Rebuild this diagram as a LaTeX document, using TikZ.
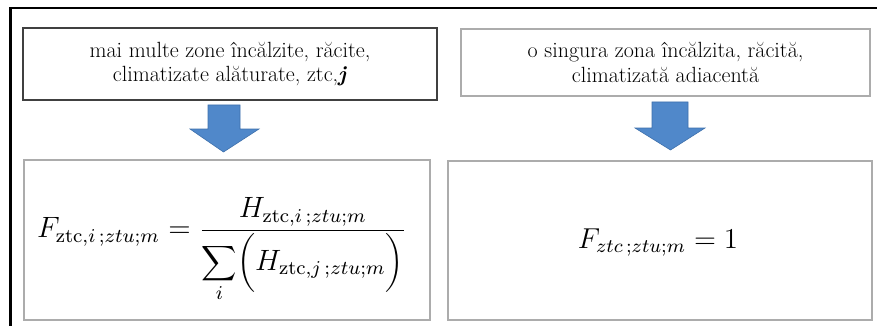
\documentclass[tikz,border=0pt]{standalone}
\usepackage{fontspec}
\definecolor{arrfill}{RGB}{80,136,202}
\definecolor{arrline}{RGB}{62,112,172}
\begin{document}
\begin{tikzpicture}[x=1pt,y=-1pt,
  box/.style={draw=gray!65, line width=1.1pt, inner sep=0pt, align=center,
    font=\fontsize{22}{24.5}\selectfont},
  blockarrow/.style={fill=arrfill, draw=arrline, line width=0.6pt, line join=miter},
  formula/.style={inner sep=0pt, font=\fontsize{12}{14}\selectfont}]
\useasboundingbox (0,0) rectangle (877,326);
\fill[white] (0,0) rectangle (877,326);
\draw[line width=2.6pt] (10.5,330) -- (10.5,8) -- (880,8);

\node[box, draw=black!75, minimum width=414pt, minimum height=72pt] (tl) at (230,64)
  {mai multe zone încălzite, răcite,\\climatizate alăturate, ztc,\textbf{\textit{j}}};
\node[box, minimum width=409pt, minimum height=67pt] (tr) at (665.5,62.5)
  {o singura zona încălzita, răcită,\\climatizată adiacentă};
\node[box, minimum width=406pt, minimum height=160pt] (bl) at (227,240) {};
\node[box, minimum width=424pt, minimum height=159pt] (br) at (660,240.5) {};

\node[formula] (fl) at ([xshift=-5pt,yshift=-10pt]bl.center)
  {\scalebox{2.45}{$\displaystyle F_{\mathrm{ztc},i\,;ztu;m}=\frac{H_{\mathrm{ztc},i\,;ztu;m}\vrule width 0pt depth 3pt}{\displaystyle\sum_{i}\biggl(H_{\mathrm{ztc},j\,;ztu;m}\biggr)}$}};
\node[formula] (fr) at ([xshift=-2pt,yshift=-2pt]br.center)
  {\scalebox{2.4}{$F_{ztc\,;ztu;m}=1$}};

\draw[blockarrow] (208,105) -- (240,105) -- (240,129) -- (259,129) -- (223.5,152)
  -- (190,129) -- (208,129) -- cycle;
\draw[blockarrow] (652,102) -- (688,102) -- (688,128) -- (705,128) -- (670.5,150)
  -- (635,128) -- (652,128) -- cycle;
\end{tikzpicture}
\end{document}
